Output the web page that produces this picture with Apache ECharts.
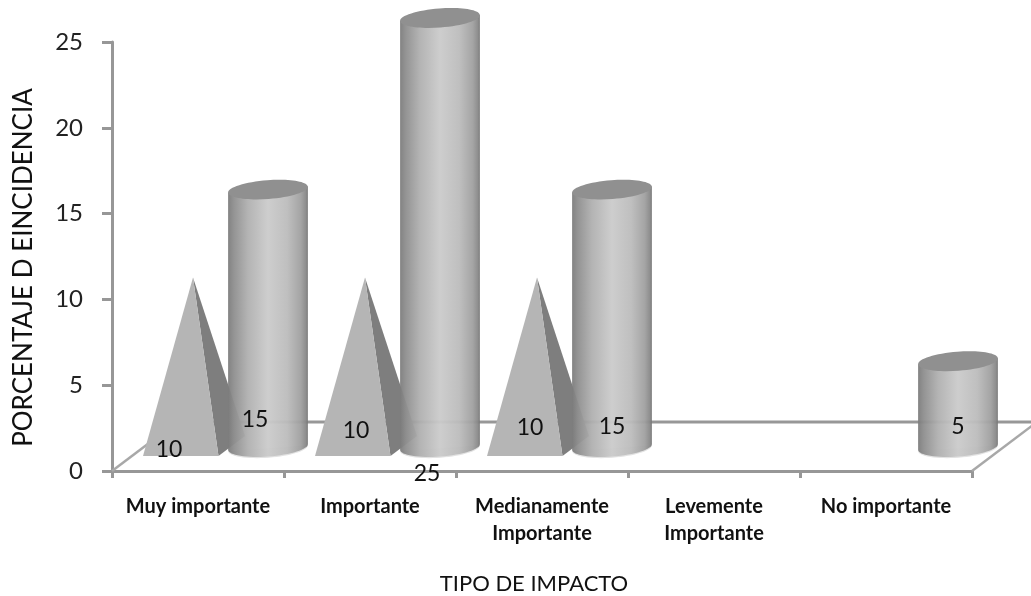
<!DOCTYPE html>
<html>
<head>
<meta charset="utf-8">
<style>html,body{margin:0;padding:0;background:#fff}#chart{width:1031px;height:596px}</style>
<script src="https://cdn.jsdelivr.net/npm/echarts@6/dist/echarts.min.js"></script>
</head>
<body>
<div id="chart"></div>
<script>
// Tipo de impacto: pyramids and cylinders standing on a pseudo-3D floor
const categories = ['Muy importante', 'Importante', 'Medianamente\nImportante', 'Levemente\nImportante', 'No importante'];
const pyramidValues = [10, 10, 10, 0, 0];
const cylinderValues = [15, 25, 15, 0, 5];
const yTicks = { min: 0, max: 25, interval: 5 };

// Hand-placed data labels, as pixel offsets from each category's axis point
const pyramidLabelOffsets = [[-29, -21], [-14, -40], [-12, -43], null, null];
const cylinderLabelOffsets = [[57, -51], [57, 3], [70, -44], null, [72, -44]];

const FONT = 'Lato';
const LINE = '#979797';
const FLOOR_RISE = 24;           // marks stand this far above the front edge
const DEPTH = [65, -49];         // floor depth vector

function cylinderGradient() {
  return new echarts.graphic.LinearGradient(0, 0, 1, 0, [
    { offset: 0, color: '#7c7c7c' },
    { offset: 0.07, color: '#8e8e8e' },
    { offset: 0.25, color: '#b0b0b0' },
    { offset: 0.5, color: '#cbcbcb' },
    { offset: 0.74, color: '#bcbcbc' },
    { offset: 0.91, color: '#a0a0a0' },
    { offset: 0.97, color: '#8a8a8a' },
    { offset: 1, color: '#767676' }
  ]);
}

function valueLabel(value, base, offset) {
  return {
    type: 'text', z2: 50,
    style: {
      text: String(value), x: base[0] + offset[0], y: base[1] + offset[1],
      align: 'center', verticalAlign: 'middle',
      font: '23px ' + FONT, fill: '#111'
    }
  };
}

function renderFloor(params, api) {
  const half = api.size([1, 0])[0] / 2;
  const first = api.coord([0, 0]);
  const last = api.coord([4, 0]);
  const a = [first[0] - half, first[1]];
  const b = [last[0] + half, last[1]];
  const lineStyle = { stroke: LINE, lineWidth: 3, fill: 'none' };
  const sideStyle = { stroke: '#a8a8a8', lineWidth: 2.5, fill: 'none' };
  return {
    type: 'group',
    children: [
      { type: 'line', shape: { x1: a[0], y1: a[1], x2: a[0] + DEPTH[0], y2: a[1] + DEPTH[1] }, style: sideStyle },
      { type: 'line', shape: { x1: b[0], y1: b[1], x2: b[0] + DEPTH[0], y2: b[1] + DEPTH[1] }, style: sideStyle },
      { type: 'line', shape: { x1: a[0] + DEPTH[0], y1: a[1] + DEPTH[1], x2: b[0] + DEPTH[0], y2: b[1] + DEPTH[1] }, style: lineStyle }
    ]
  };
}

function renderPyramid(params, api) {
  const i = api.value(0), v = api.value(1);
  if (!v) return null;
  const base = api.coord([i, 0]);
  const top = api.coord([i, v]);
  const cx = base[0];
  const apex = [cx - 5, top[1] - FLOOR_RISE + 2];
  const frontY = base[1] - 15;
  const left = [cx - 55, frontY];
  const right = [cx + 20.5, frontY];
  const back = [cx + 47, frontY - 20];
  return {
    type: 'group',
    children: [
      { type: 'polygon', shape: { points: [apex, right, back] }, style: { fill: '#7e7e7e' } },
      { type: 'polygon', shape: { points: [apex, left, right] }, style: { fill: '#b5b5b5' } },
      valueLabel(v, base, pyramidLabelOffsets[i])
    ]
  };
}

function renderCylinder(params, api) {
  const i = api.value(0), v = api.value(1);
  if (!v) return null;
  const base = api.coord([i, 0]);
  const top = api.coord([i, v]);
  const cx = base[0] + 70 + (i === 4 ? 2 : 0);
  const rx = 40, ry = 9.5, tilt = 0.075;
  const bottomY = base[1] - FLOOR_RISE, topY = top[1] - FLOOR_RISE;
  const pt = (y, t) => {
    const ex = rx * Math.cos(t), ey = ry * Math.sin(t);
    return [cx + ex * Math.cos(tilt) + ey * Math.sin(tilt), y - ex * Math.sin(tilt) + ey * Math.cos(tilt)];
  };
  // Outline: down the left side, round the lower rim, back up the right side
  const outline = [pt(topY, Math.PI)];
  for (let k = 0; k <= 32; k++) outline.push(pt(bottomY, Math.PI - (Math.PI * k) / 32));
  outline.push(pt(topY, 0));
  const rim = outline.slice(1, -1).map(p => [p[0], p[1] + 1.2]);
  const children = [
    { type: 'polygon', shape: { points: rim }, style: { fill: '#e2e2e2' } },
    { type: 'polygon', shape: { points: outline }, style: { fill: cylinderGradient(), opacity: 0.95 } },
    {
      type: 'ellipse', x: cx, y: topY, rotation: tilt,
      shape: { cx: 0, cy: 0, rx: rx, ry: ry },
      style: { fill: '#909090' }
    },
    valueLabel(v, base, cylinderLabelOffsets[i])
  ];
  return { type: 'group', children: children };
}

const chart = echarts.init(document.getElementById('chart'), null, { renderer: 'canvas' });
chart.setOption({
  animation: false,
  backgroundColor: '#fff',
  grid: { left: 112, right: 59, top: 42, bottom: 125, outerBoundsMode: 'none' },
  xAxis: {
    type: 'category',
    data: categories,
    boundaryGap: true,
    name: 'TIPO DE IMPACTO',
    nameLocation: 'middle',
    nameGap: 102,
    nameTextStyle: { fontFamily: FONT, fontSize: 22, color: '#111', padding: [0, 16, 0, 0] },
    axisLine: { lineStyle: { color: LINE, width: 3 } },
    axisTick: { show: true, alignWithLabel: false, length: 7, lineStyle: { color: LINE, width: 3 } },
    axisLabel: {
      interval: 0, margin: 22, lineHeight: 27,
      fontFamily: FONT, fontWeight: 'bold', fontSize: 20, color: '#111'
    }
  },
  yAxis: {
    type: 'value',
    min: yTicks.min, max: yTicks.max, interval: yTicks.interval,
    name: 'PORCENTAJE D EINCIDENCIA',
    nameLocation: 'middle',
    nameGap: 75,
    nameTextStyle: { fontFamily: FONT, fontSize: 26, color: '#111', padding: [0, 22, 0, 0] },
    axisLine: { show: true, lineStyle: { color: LINE, width: 3 } },
    axisTick: { show: true, length: 10, lineStyle: { color: LINE, width: 3 } },
    axisLabel: { margin: 29, fontFamily: FONT, fontSize: 24, color: '#222', padding: [3, 0, 0, 0] },
    splitLine: { show: false }
  },
  series: [
    { type: 'custom', silent: true, renderItem: renderFloor, data: [[0, 0]], encode: { x: 0, y: 1 }, z: 1 },
    { type: 'custom', silent: true, renderItem: renderPyramid, data: pyramidValues.map((v, i) => [i, v]), encode: { x: 0, y: 1 }, z: 2 },
    { type: 'custom', silent: true, renderItem: renderCylinder, data: cylinderValues.map((v, i) => [i, v]), encode: { x: 0, y: 1 }, z: 3 }
  ]
});
</script>
</body>
</html>
